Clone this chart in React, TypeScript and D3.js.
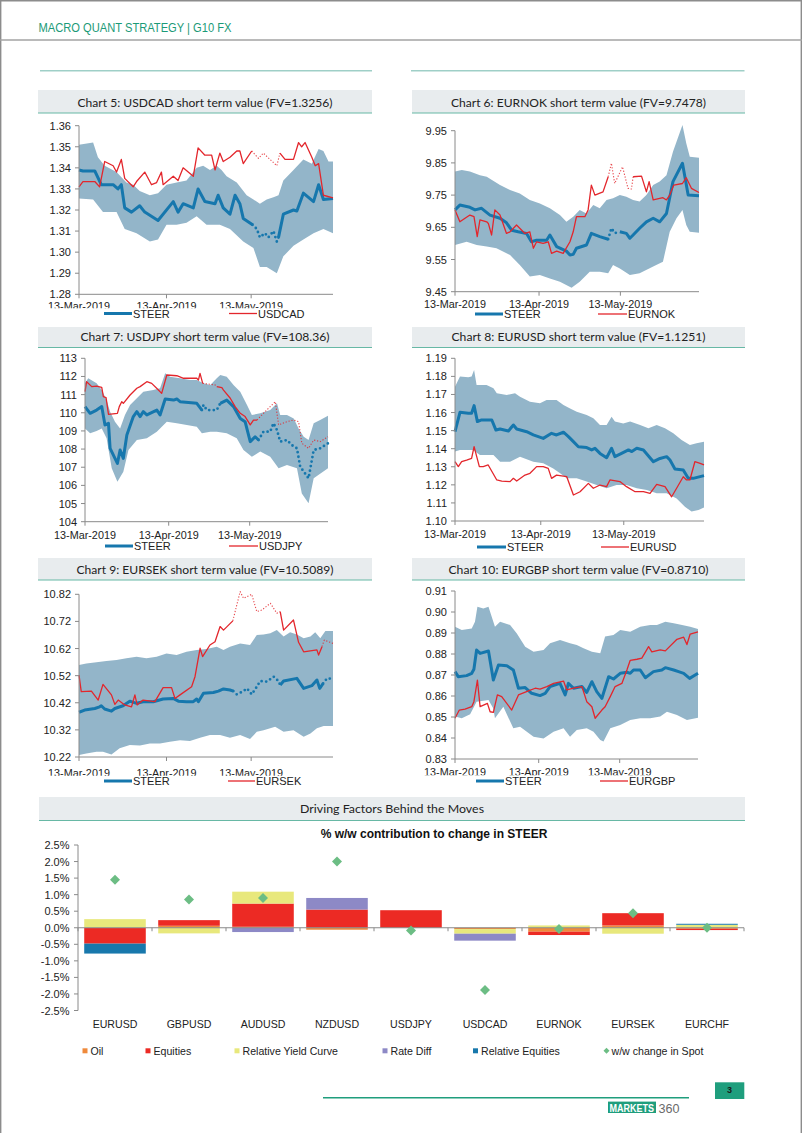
import React from 'react';
import * as d3 from 'd3';

type Pt = [number, number];
type Range = [number, number];

// ---------- time frame (days after 13-Mar-2019) ----------
const START = Date.UTC(2019, 2, 13);
const DAY_SPAN = 90;
const dateTicks = [Date.UTC(2019, 2, 13), Date.UTC(2019, 3, 13), Date.UTC(2019, 4, 13)];
const dayToDate = (d: number) => new Date(START + d * 86400000);

// ---------- Chart 5 USDCAD ----------
const usdcadTicks = [1.28, 1.29, 1.30, 1.31, 1.32, 1.33, 1.34, 1.35, 1.36];
const usdcadUpper: Pt[] = [[0,1.351],[5,1.352],[6.7,1.345],[9.1,1.341],[13.3,1.338],[16.8,1.333],[19.2,1.332],[21.5,1.329],[25.1,1.327],[28,1.328],[31,1.332],[34.6,1.333],[38.1,1.334],[41.7,1.340],[44,1.341],[46.4,1.339],[48.8,1.341],[50.5,1.339],[52.3,1.336],[55.9,1.333],[59.4,1.327],[61.8,1.325],[64.1,1.323],[66.5,1.325],[68.9,1.326],[70.7,1.327],[72.4,1.334],[76,1.339],[79.5,1.344],[82.5,1.342],[84.9,1.349],[86.6,1.348],[88.4,1.343],[90,1.343]];
const usdcadLower: Pt[] = [[0,1.3255],[5,1.325],[8.5,1.319],[13.3,1.319],[16.2,1.311],[20.4,1.309],[25.1,1.305],[28,1.306],[31,1.313],[34.6,1.313],[38.1,1.314],[41.7,1.317],[45.2,1.313],[49.9,1.313],[53.5,1.311],[58.2,1.305],[61.8,1.302],[64.1,1.293],[66.5,1.293],[70.1,1.290],[72.4,1.298],[76,1.303],[79.5,1.306],[83.1,1.309],[86.6,1.311],[90,1.309]];
const usdcadSteer: Pt[] = [[0,1.339],[1.4,1.3385],[5.6,1.3385],[7.9,1.332],[12.1,1.332],[13.8,1.330],[15,1.332],[16.2,1.321],[18.6,1.319],[21.5,1.322],[23.3,1.319],[28,1.315],[33.4,1.324],[35.1,1.319],[36.9,1.323],[40.5,1.321],[42.2,1.330],[44.6,1.324],[48.2,1.323],[49.3,1.327],[51.1,1.321],[53.5,1.318],[55.3,1.327],[57,1.323],[58.2,1.316],[61.5,1.313],[63,1.311],[64.1,1.307],[65.9,1.309],[67.1,1.307],[68.9,1.310],[70.1,1.305],[70.7,1.307],[72.4,1.318],[76,1.320],[77.2,1.3195],[79.5,1.328],[83.1,1.324],[84.9,1.332],[86.6,1.325],[90,1.3255]];
const usdcadSpot: Pt[] = [[0,1.331],[1.4,1.3335],[5.6,1.3335],[7.3,1.331],[9.1,1.343],[12.1,1.341],[13.3,1.338],[15,1.344],[16.2,1.335],[19.2,1.331],[20.4,1.3335],[23.3,1.338],[25.7,1.332],[27.5,1.333],[29.2,1.338],[29.8,1.332],[33.4,1.336],[35.1,1.334],[36.9,1.340],[40.5,1.336],[42.2,1.3495],[44.6,1.346],[47,1.346],[48.2,1.339],[49.9,1.347],[51.1,1.343],[53.5,1.345],[55.9,1.348],[57,1.348],[58.2,1.342],[61.2,1.348],[63.6,1.3445],[65.3,1.347],[70.1,1.341],[71.2,1.347],[73,1.344],[76,1.344],[77.8,1.352],[78.9,1.350],[80.1,1.352],[82.5,1.345],[83.7,1.341],[84.9,1.342],[86.6,1.327],[90,1.3258]];
const usdcadSteerDotted: Range[] = [[61.5, 70.7]];
const usdcadSpotDotted: Range[] = [[61.2, 71.2]];

// ---------- Chart 6 EURNOK ----------
const eurnokTicks = [9.45, 9.55, 9.65, 9.75, 9.85, 9.95];
const eurnokUpper: Pt[] = [[0,9.823],[2.5,9.828],[5.5,9.823],[9.2,9.812],[11.7,9.807],[16.6,9.781],[20.3,9.766],[23.9,9.755],[27.6,9.735],[31.3,9.724],[35,9.709],[38.7,9.688],[41.1,9.667],[43.6,9.683],[46,9.704],[48.5,9.693],[51,9.719],[53.4,9.709],[55.9,9.735],[58.3,9.740],[60.8,9.750],[63.2,9.745],[65.7,9.735],[68.1,9.730],[70.6,9.750],[73.1,9.781],[75.5,9.792],[78,9.812],[80.4,9.885],[83.9,9.968],[85.3,9.911],[86.6,9.869],[90,9.866]];
const eurnokLower: Pt[] = [[0,9.595],[4.3,9.605],[8,9.595],[11.7,9.590],[15.3,9.585],[20.3,9.564],[23.9,9.533],[27.6,9.497],[31.3,9.502],[35,9.491],[38.7,9.481],[43,9.462],[46,9.481],[49.7,9.512],[53.4,9.512],[56.5,9.507],[58.3,9.533],[60.8,9.522],[64.5,9.502],[68.1,9.507],[73.1,9.528],[76.7,9.543],[79.2,9.636],[81.7,9.678],[83.9,9.704],[85.3,9.657],[86.6,9.636],[90,9.633]];
const eurnokSteer: Pt[] = [[0,9.704],[1.8,9.719],[5.5,9.712],[7.4,9.704],[9.8,9.709],[12.9,9.688],[16.6,9.678],[19,9.664],[20.9,9.641],[23.3,9.636],[26.4,9.631],[28.2,9.605],[30.1,9.610],[33.8,9.610],[35,9.626],[37.5,9.590],[41.1,9.576],[42.4,9.564],[43.6,9.566],[44.8,9.585],[48.5,9.595],[50.3,9.631],[53.4,9.621],[56.5,9.613],[57.7,9.647],[58.9,9.632],[60.8,9.636],[63.2,9.631],[64.5,9.616],[65.7,9.626],[68.1,9.647],[70.6,9.667],[73.1,9.678],[75.5,9.667],[78,9.693],[80.4,9.792],[83.9,9.849],[86,9.750],[90,9.748]];
const eurnokSpot: Pt[] = [[0,9.704],[1.8,9.667],[3.7,9.678],[5.5,9.688],[7,9.683],[8.2,9.621],[9.2,9.673],[11.7,9.667],[12.3,9.662],[13.5,9.626],[14.7,9.704],[16.6,9.688],[19,9.631],[20.3,9.636],[22.7,9.657],[25.8,9.631],[27.6,9.636],[28.9,9.585],[30.1,9.605],[32.5,9.600],[34.4,9.605],[35.6,9.569],[37.5,9.576],[39.9,9.569],[42.4,9.605],[43.6,9.636],[44.8,9.683],[47.9,9.683],[49.1,9.704],[50.3,9.781],[51.6,9.750],[54.6,9.760],[56.5,9.807],[57.7,9.849],[58.9,9.786],[61.8,9.838],[63.8,9.771],[65.1,9.769],[65.7,9.807],[68.8,9.809],[70.6,9.760],[71.6,9.792],[73.1,9.735],[76.7,9.742],[78,9.735],[79.2,9.750],[80.7,9.781],[83.9,9.786],[85.3,9.804],[87.2,9.771],[90,9.758]];
const eurnokSteerDotted: Range[] = [[56.5, 61]];
const eurnokSpotDotted: Range[] = [[56.5, 65.5]];

// ---------- Chart 7 USDJPY ----------
const usdjpyTicks = [104, 105, 106, 107, 108, 109, 110, 111, 112, 113];
const usdjpyUpper: Pt[] = [[0,111.62],[1.2,111.9],[4.3,111.62],[6.2,111.25],[8,110.7],[9.3,110.06],[11.1,109.5],[13,109.14],[14.8,109.88],[16.7,110.43],[19.2,110.8],[21.6,111.16],[25.3,111.25],[27.8,111.35],[29.7,112.17],[31.5,111.99],[35.2,111.9],[38.9,111.8],[41.4,111.8],[43.9,111.62],[46.4,111.53],[48.8,111.9],[50.1,112.08],[52.5,111.99],[55,111.53],[57.5,111.16],[60,110.43],[61.8,109.88],[64.9,109.97],[68.6,110.15],[71.1,110.52],[72.3,109.88],[74.8,109.88],[77.3,109.69],[79.1,109.14],[81,108.68],[82.8,108.5],[84.7,109.42],[87.1,109.6],[90,109.84]];
const usdjpyLower: Pt[] = [[0,109.14],[1.9,108.87],[4.3,109.0],[6.2,109.14],[8,108.59],[9.9,106.94],[12,106.2],[14.2,106.75],[16.1,107.95],[19.2,108.5],[22.9,108.59],[26.6,108.96],[30.3,109.51],[34,109.42],[37.7,109.33],[41.4,109.23],[43.3,108.87],[46.4,108.96],[48.8,108.96],[52.5,108.87],[56.2,108.59],[58.7,107.95],[61.8,107.58],[64.9,107.86],[68.6,107.58],[71.7,106.94],[74.8,107.12],[78.5,106.94],[80.3,105.56],[82.8,105.01],[84.7,106.39],[90,106.94]];
const usdjpySteer: Pt[] = [[0,110.34],[1.9,109.97],[4.3,110.15],[6.2,110.34],[7.4,109.33],[8.7,109.42],[9.3,108.04],[12,107.21],[13,107.95],[14.2,107.49],[15.5,108.78],[17.9,109.79],[19.2,110.06],[20.4,109.79],[21.6,110.06],[22.9,109.88],[26.6,110.15],[27.8,109.88],[29.7,110.76],[32.8,110.7],[34,110.76],[35.2,110.61],[41.4,110.52],[43.3,110.15],[43.9,110.43],[45.1,110.15],[47,110.15],[48.8,110.15],[50.1,110.52],[52.5,110.7],[55,110.34],[57.5,109.69],[59.3,109.51],[61.2,108.41],[63,108.68],[64.3,108.5],[66.1,108.96],[68.6,108.96],[69.8,109.42],[71.1,109.05],[72.3,108.41],[74.8,108.5],[76.6,108.22],[78.5,108.04],[79.7,107.03],[82.8,106.39],[84.7,107.95],[87.1,108.04],[90,108.32]];
const usdjpySpot: Pt[] = [[0,111.16],[0.6,111.71],[2.5,111.44],[4.3,111.47],[6.2,111.4],[6.8,110.89],[7.8,110.83],[8.7,109.91],[12,109.97],[12.7,110.34],[13.6,110.61],[14.2,110.52],[16.7,110.98],[19.2,111.35],[20.4,111.44],[22.9,111.71],[24.7,111.62],[27.2,111.25],[28.4,111.07],[30.3,112.08],[34,112.04],[36.5,111.9],[41.4,111.9],[42,111.8],[42.6,112.17],[43.6,111.62],[46.4,111.57],[48.2,111.53],[48.8,111.44],[50.7,111.38],[51.3,111.25],[53.8,110.8],[55.6,110.34],[57.5,109.97],[59.3,109.79],[61.2,109.33],[62.4,109.6],[63.7,109.6],[66.1,109.97],[68.6,110.34],[70.5,110.61],[71.7,109.33],[74.8,109.51],[77.3,109.6],[79.1,109.51],[80.3,108.32],[82.8,108.04],[84.7,108.5],[87.1,108.41],[90,108.68]];
const usdjpySteerDotted: Range[] = [[43, 49.5], [64.3, 90]];
const usdjpySpotDotted: Range[] = [[43.6, 48.6], [63.7, 90]];

// ---------- Chart 8 EURUSD ----------
const eurusdTicks = [1.10, 1.11, 1.12, 1.13, 1.14, 1.15, 1.16, 1.17, 1.18, 1.19];
const eurusdUpper: Pt[] = [[0,1.1743],[1.8,1.1799],[4.8,1.1795],[6,1.1799],[6.9,1.1835],[7.8,1.1752],[11.4,1.1752],[13.9,1.1734],[15.1,1.1706],[18.7,1.1697],[21.7,1.1706],[23.5,1.1688],[27.1,1.166],[30.7,1.1651],[33.1,1.167],[36.7,1.167],[39.2,1.1642],[41.6,1.1623],[44,1.1605],[47.6,1.1586],[50,1.1568],[52.4,1.1531],[54.8,1.1531],[56.6,1.1577],[57.8,1.155],[60.8,1.154],[63.3,1.155],[66.9,1.1531],[69.9,1.1513],[72.9,1.1531],[75.9,1.1513],[78.9,1.1485],[81.9,1.1448],[84.9,1.142],[87.3,1.143],[90,1.1439]];
const eurusdLower: Pt[] = [[0,1.1384],[1.8,1.1393],[6.6,1.1393],[9,1.1365],[13.9,1.1365],[16.3,1.1328],[19.9,1.1328],[23.5,1.1356],[28.3,1.1328],[31.9,1.1319],[35.5,1.1291],[38,1.1264],[40.4,1.1236],[44,1.1236],[47.6,1.1218],[51.2,1.1199],[54.8,1.1181],[58.4,1.1199],[62,1.1199],[65.7,1.1181],[69.3,1.1172],[72.9,1.1153],[76.5,1.1153],[80.1,1.1125],[83.1,1.1079],[85.5,1.1052],[88,1.1061],[90,1.1074]];
const eurusdSteer: Pt[] = [[0,1.1494],[1.8,1.1601],[4.8,1.1596],[6,1.1596],[6.9,1.1638],[8.1,1.155],[9.6,1.1559],[13.3,1.1559],[14.8,1.1503],[16.3,1.1509],[19.3,1.1498],[21.1,1.1531],[22.3,1.1509],[25.9,1.1494],[28.3,1.1476],[31.9,1.1457],[34.9,1.1485],[36.7,1.1476],[39.2,1.1491],[41,1.1467],[42.8,1.1439],[44.6,1.1411],[47.6,1.1406],[49.4,1.1393],[50.6,1.1402],[52.4,1.1374],[54.8,1.135],[56.6,1.1402],[57.8,1.1356],[60.2,1.1374],[62.7,1.1393],[63.9,1.1384],[65.7,1.1402],[68.1,1.1393],[71.7,1.1328],[74.1,1.1346],[76.5,1.1356],[77.7,1.1337],[79.5,1.1288],[82.5,1.1282],[84.3,1.1236],[86.1,1.1236],[90,1.1251]];
const eurusdSpot: Pt[] = [[0,1.1328],[1.2,1.1301],[2.4,1.1328],[4.2,1.1337],[6,1.1347],[6.9,1.1411],[8.8,1.1301],[10.2,1.1301],[12,1.131],[15.1,1.1227],[16.9,1.1221],[19.9,1.1218],[21.1,1.1236],[22.3,1.1221],[25.3,1.1254],[27.1,1.1264],[29.5,1.1301],[31.9,1.1301],[33.7,1.1291],[34.9,1.1236],[36.7,1.1254],[40.4,1.1245],[42.8,1.1144],[45.2,1.1162],[48.2,1.1208],[50,1.1181],[52.4,1.1199],[54.8,1.119],[56,1.1227],[59.6,1.1218],[62,1.119],[65.1,1.1162],[68.1,1.1162],[70.5,1.1153],[72.9,1.1203],[75.9,1.119],[78.3,1.1134],[80.1,1.1181],[82.5,1.1245],[83.7,1.1227],[84.9,1.1227],[86.7,1.1328],[88.6,1.1319],[90,1.131]];
const eurusdSteerDotted: Range[] = [];
const eurusdSpotDotted: Range[] = [];

// ---------- Chart 9 EURSEK ----------
const eursekTicks = [10.22, 10.32, 10.42, 10.52, 10.62, 10.72, 10.82];
const eursekUpper: Pt[] = [[0,10.559],[2.6,10.565],[6.2,10.569],[9.7,10.574],[13.3,10.578],[16.8,10.584],[20.4,10.59],[23.9,10.584],[27.5,10.59],[31,10.602],[34.6,10.596],[38.1,10.608],[41.7,10.615],[45.2,10.618],[48.8,10.627],[51.2,10.615],[53.5,10.627],[57.1,10.639],[60.6,10.633],[63,10.67],[65.4,10.672],[67.8,10.676],[70.1,10.688],[72.5,10.664],[74.8,10.68],[77.2,10.672],[79.6,10.658],[82,10.664],[83.7,10.68],[85.5,10.658],[87.3,10.685],[90,10.685]];
const eursekLower: Pt[] = [[0,10.227],[2.6,10.233],[6.2,10.239],[8.5,10.239],[11.5,10.229],[14.4,10.252],[18,10.264],[21.6,10.262],[25.1,10.27],[28.7,10.27],[32.2,10.276],[35.8,10.282],[39.3,10.279],[42.9,10.291],[46.4,10.301],[50,10.301],[53.5,10.291],[57.1,10.301],[60.6,10.286],[63,10.313],[65.4,10.319],[69.5,10.332],[72.5,10.313],[76,10.319],[79.6,10.295],[82,10.307],[84.3,10.326],[86.7,10.334],[90,10.334]];
const eursekSteer: Pt[] = [[0,10.385],[2,10.393],[5.6,10.399],[7.3,10.405],[7.9,10.409],[9.1,10.397],[11.5,10.389],[12.7,10.399],[15.6,10.409],[18,10.426],[20.4,10.418],[22.7,10.424],[26.3,10.424],[29.8,10.434],[33.4,10.436],[35.2,10.426],[38.1,10.424],[40.5,10.424],[41.7,10.434],[42.3,10.424],[44.1,10.455],[47.6,10.458],[49.4,10.463],[51.2,10.471],[53.5,10.467],[54.7,10.463],[55.9,10.451],[58.3,10.463],[59.5,10.473],[61.2,10.451],[63,10.479],[64.2,10.5],[66.6,10.498],[69,10.516],[70.7,10.5],[71.3,10.485],[72.5,10.5],[77.2,10.51],[79.6,10.473],[82.5,10.483],[84.3,10.504],[85.3,10.473],[86.5,10.491],[87.9,10.51],[90,10.508]];
const eursekSpot: Pt[] = [[0,10.522],[0.8,10.461],[4.4,10.463],[6.8,10.43],[8.5,10.488],[11.5,10.449],[12.7,10.414],[13.9,10.43],[16.2,10.412],[18.6,10.405],[19.8,10.449],[20.6,10.412],[22.7,10.43],[26.9,10.424],[29.8,10.476],[32.8,10.476],[34,10.436],[35.8,10.449],[39.9,10.479],[41.1,10.516],[42.9,10.621],[43.8,10.59],[46.4,10.633],[48.2,10.645],[50,10.701],[51.2,10.688],[54.5,10.722],[57.1,10.83],[58.3,10.805],[61.2,10.82],[63,10.756],[64.8,10.762],[67.8,10.787],[70.1,10.75],[71.3,10.756],[72.5,10.688],[76,10.725],[77.8,10.643],[79.6,10.608],[84.3,10.615],[84.9,10.596],[86.1,10.627],[86.9,10.651],[90,10.639]];
const eursekSteerDotted: Range[] = [[54.7, 71.3], [86.5, 90]];
const eursekSpotDotted: Range[] = [[54.5, 71.3], [86.1, 90]];

// ---------- Chart 10 EURGBP ----------
const eurgbpTicks = [0.83, 0.84, 0.85, 0.86, 0.87, 0.88, 0.89, 0.90, 0.91];
const eurgbpUpper: Pt[] = [[0,0.893],[2.5,0.8914],[6.2,0.8922],[7.4,0.8954],[8.3,0.9025],[10.5,0.9017],[12.4,0.9025],[14.8,0.893],[16.7,0.8954],[20.4,0.8938],[22.9,0.8898],[26,0.8835],[29.1,0.8811],[32.8,0.8819],[35.2,0.8851],[38.9,0.8867],[42.6,0.8851],[45.1,0.8843],[47.6,0.8827],[50.7,0.8811],[53.8,0.8803],[55.6,0.8883],[58.7,0.889],[61.2,0.8914],[64.9,0.8906],[68.6,0.893],[72.3,0.8938],[74.8,0.8938],[77.9,0.8954],[81,0.8946],[84.1,0.8938],[87.1,0.893],[90,0.8919]];
const eurgbpLower: Pt[] = [[0,0.8502],[2.5,0.8494],[5.6,0.8513],[8,0.8573],[12.4,0.8581],[14.2,0.8541],[14.8,0.8494],[17.9,0.8549],[21.6,0.8446],[24.1,0.8454],[26.6,0.843],[29.1,0.8406],[32.8,0.8398],[36.5,0.843],[40.2,0.8446],[42.6,0.8406],[45.1,0.8438],[48.8,0.8446],[51.3,0.843],[53.8,0.839],[55,0.8383],[57.5,0.8446],[61.2,0.8462],[64.9,0.8486],[68.6,0.8494],[72.3,0.8494],[76,0.8502],[78.5,0.8525],[82.2,0.851],[85.9,0.8486],[90,0.8497]];
const eurgbpSteer: Pt[] = [[0,0.8716],[1.2,0.8692],[4.3,0.8697],[6.2,0.8708],[7,0.8727],[8,0.8819],[9.3,0.8803],[12.4,0.8814],[14.2,0.8676],[16.1,0.8748],[19.2,0.8744],[21.6,0.8724],[23.5,0.8637],[26,0.864],[28.4,0.8613],[31.5,0.8602],[33.4,0.8613],[35.2,0.8645],[38.9,0.866],[40.8,0.8605],[42,0.866],[43.9,0.8637],[47,0.8645],[48.8,0.8617],[50.7,0.8668],[52.5,0.8621],[54.4,0.8589],[56.9,0.8692],[58.7,0.8681],[61.2,0.8708],[63.7,0.8713],[64.9,0.8708],[66.1,0.8724],[68.6,0.8724],[70.5,0.8687],[73.5,0.8716],[76.6,0.8724],[77.9,0.8735],[81,0.8724],[82.8,0.8716],[84.7,0.8708],[86.9,0.8684],[90,0.8708]];
const eurgbpSpot: Pt[] = [[0,0.8494],[1.6,0.8533],[3.7,0.8538],[6.2,0.8549],[7,0.8573],[8.3,0.8676],[9.3,0.8549],[12,0.8565],[13,0.8525],[14.2,0.8522],[15.7,0.8605],[17.3,0.8597],[21,0.8533],[23.5,0.8605],[27.2,0.8624],[29.7,0.8637],[31.5,0.8633],[34,0.8645],[36.5,0.866],[40.2,0.8671],[41.4,0.8629],[43.9,0.8637],[47,0.8645],[48.8,0.8573],[50.7,0.8549],[51.9,0.8494],[54.4,0.8533],[55.6,0.8549],[57.5,0.8597],[59.3,0.8645],[61.8,0.866],[63.7,0.8725],[64.9,0.877],[67.4,0.8775],[69.2,0.878],[71.7,0.8835],[72.9,0.881],[76,0.882],[77.9,0.8815],[82.2,0.887],[84.7,0.888],[85.9,0.8845],[87.1,0.8895],[90,0.8905]];
const eurgbpSteerDotted: Range[] = [];
const eurgbpSpotDotted: Range[] = [];

// ---------- Driving factors bar chart ----------
const barCats = ['EURUSD', 'GBPUSD', 'AUDUSD', 'NZDUSD', 'USDJPY', 'USDCAD', 'EURNOK', 'EURSEK', 'EURCHF'];
const oilVals = [0, 0.06, 0.03, -0.06, 0, -0.04, -0.12, 0.07, -0.03];
const equitiesVals = [-0.48, 0.17, 0.70, 0.55, 0.53, 0, -0.10, 0.37, -0.04];
const yieldCurveVals = [0.26, -0.17, 0.36, 0, 0, -0.14, 0.07, -0.18, 0.09];
const rateDiffVals = [0, 0, -0.13, 0.35, 0, -0.21, 0, 0, 0];
const relEquitiesVals = [-0.30, 0, 0, 0, 0, 0, 0, 0, 0.03];
const spotChangeVals = [1.45, 0.85, 0.9, 2.0, -0.08, -1.88, -0.04, 0.44, 0.0];
const barTicks = [-2.5, -2.0, -1.5, -1.0, -0.5, 0, 0.5, 1.0, 1.5, 2.0, 2.5];

// ---------- styles ----------
const FONT = "'Liberation Sans', Arial, sans-serif";
const NARROW = "'Liberation Sans Narrow', 'Liberation Sans', Arial, sans-serif";
const TITLE_FONT = "Lato, 'Open Sans', sans-serif";
const BAND_C = '#93b5c9';
const STEER_C = '#1677ad';
const SPOT_C = '#e3262c';
const TEAL = '#1f9e7d';
const AXIS_C = '#8a8a8a';

interface Layout {
  left: number; right: number; top: number; bottom: number;
  boxX: number; boxW: number; boxY: number; boxH: number;
  titleBase: number; titleLen: number;
  labelBase: number; labelClip: number; legendY: number;
  steerLeg: [number, number]; spotLeg: [number, number];
}

const L5: Layout = { left: 79, right: 333, top: 125.7, bottom: 294.3, boxX: 38, boxW: 334, boxY: 90, boxH: 23, titleBase: 106.5, titleLen: 255, labelBase: 310.3, labelClip: 308.3, legendY: 313.5, steerLeg: [104, 132], spotLeg: [229, 257] };
const L6: Layout = { left: 455, right: 699, top: 130.7, bottom: 291.7, boxX: 412, boxW: 333, boxY: 90, boxH: 23, titleBase: 106.5, titleLen: 255, labelBase: 308.2, labelClip: 322, legendY: 314, steerLeg: [475, 503], spotLeg: [598, 627] };
const L7: Layout = { left: 85, right: 328, top: 358.3, bottom: 521.7, boxX: 38, boxW: 334, boxY: 327, boxH: 20.5, titleBase: 340.5, titleLen: 249, labelBase: 539, labelClip: 560, legendY: 546, steerLeg: [105, 133], spotLeg: [229, 258] };
const L8: Layout = { left: 455, right: 704, top: 358.3, bottom: 521, boxX: 412, boxW: 333, boxY: 327, boxH: 20.5, titleBase: 340.5, titleLen: 254, labelBase: 538, labelClip: 560, legendY: 547, steerLeg: [477, 506], spotLeg: [601, 629] };
const L9: Layout = { left: 79, right: 333, top: 594.3, bottom: 757, boxX: 38, boxW: 334, boxY: 558, boxH: 22, titleBase: 574.3, titleLen: 257, labelBase: 776.5, labelClip: 775.7, legendY: 781, steerLeg: [104, 132], spotLeg: [228, 255] };
const L10: Layout = { left: 455, right: 698, top: 591, bottom: 759, boxX: 412, boxW: 333, boxY: 558, boxH: 22, titleBase: 574.3, titleLen: 260, labelBase: 776.2, labelClip: 775.2, legendY: 781, steerLeg: [476, 504], spotLeg: [600, 628] };

interface ChartDef {
  id: string; title: string; pair: string;
  upper: Pt[]; lower: Pt[]; steer: Pt[]; spot: Pt[];
  steerDots: Range[]; spotDots: Range[]; ticks: number[]; dec: number; L: Layout;
}

const chartDefs: ChartDef[] = [
  { id: 'c5', title: 'Chart 5: USDCAD short term value (FV=1.3256)', pair: 'USDCAD', upper: usdcadUpper, lower: usdcadLower, steer: usdcadSteer, spot: usdcadSpot, steerDots: usdcadSteerDotted, spotDots: usdcadSpotDotted, ticks: usdcadTicks, dec: 2, L: L5 },
  { id: 'c6', title: 'Chart 6: EURNOK short term value (FV=9.7478)', pair: 'EURNOK', upper: eurnokUpper, lower: eurnokLower, steer: eurnokSteer, spot: eurnokSpot, steerDots: eurnokSteerDotted, spotDots: eurnokSpotDotted, ticks: eurnokTicks, dec: 2, L: L6 },
  { id: 'c7', title: 'Chart 7: USDJPY short term value (FV=108.36)', pair: 'USDJPY', upper: usdjpyUpper, lower: usdjpyLower, steer: usdjpySteer, spot: usdjpySpot, steerDots: usdjpySteerDotted, spotDots: usdjpySpotDotted, ticks: usdjpyTicks, dec: 0, L: L7 },
  { id: 'c8', title: 'Chart 8: EURUSD short term value (FV=1.1251)', pair: 'EURUSD', upper: eurusdUpper, lower: eurusdLower, steer: eurusdSteer, spot: eurusdSpot, steerDots: eurusdSteerDotted, spotDots: eurusdSpotDotted, ticks: eurusdTicks, dec: 2, L: L8 },
  { id: 'c9', title: 'Chart 9: EURSEK short term value (FV=10.5089)', pair: 'EURSEK', upper: eursekUpper, lower: eursekLower, steer: eursekSteer, spot: eursekSpot, steerDots: eursekSteerDotted, spotDots: eursekSpotDotted, ticks: eursekTicks, dec: 2, L: L9 },
  { id: 'c10', title: 'Chart 10: EURGBP short term value (FV=0.8710)', pair: 'EURGBP', upper: eurgbpUpper, lower: eurgbpLower, steer: eurgbpSteer, spot: eurgbpSpot, steerDots: eurgbpSteerDotted, spotDots: eurgbpSpotDotted, ticks: eurgbpTicks, dec: 2, L: L10 },
];

function splitSegments(pts: Pt[], ranges: Range[]) {
  const segs: { dotted: boolean; pts: Pt[] }[] = [];
  for (let i = 0; i < pts.length - 1; i++) {
    const mid = (pts[i][0] + pts[i + 1][0]) / 2;
    const dotted = ranges.some(([a, b]) => mid >= a && mid <= b);
    const last = segs[segs.length - 1];
    if (last && last.dotted === dotted) last.pts.push(pts[i + 1]);
    else segs.push({ dotted, pts: [pts[i], pts[i + 1]] });
  }
  return segs;
}

function TitleBox({ x, y, w, h, base, len, text }: { x: number; y: number; w: number; h: number; base: number; len: number; text: string }) {
  return (
    <g>
      <rect x={x} y={y} width={w} height={h} fill="#e8ecee" />
      <line x1={x} x2={x + w} y1={y + h} y2={y + h} stroke="#67b8a5" strokeWidth={1} />
      <text x={x + w / 2} y={base} textAnchor="middle" fontFamily={TITLE_FONT} fontSize={12} fill="#222"
        textLength={len} lengthAdjust="spacingAndGlyphs">{text}</text>
    </g>
  );
}

function LineChart({ c }: { c: ChartDef }) {
  const L = c.L;
  const x = d3.scaleUtc().domain([dayToDate(0), dayToDate(DAY_SPAN)]).range([L.left, L.right]);
  const y = d3.scaleLinear().domain([c.ticks[0], c.ticks[c.ticks.length - 1]]).range([L.bottom, L.top]);
  const line = d3.line<Pt>().x(p => x(dayToDate(p[0]))).y(p => y(p[1]));
  const bandPath = (line([...c.upper, ...c.lower.slice().reverse()]) || '') + 'Z';
  const steerSegs = splitSegments(c.steer, c.steerDots);
  const spotSegs = splitSegments(c.spot, c.spotDots);
  const fmtDate = d3.utcFormat('%d-%b-%Y');
  const clipId = `clip-${c.id}`;
  return (
    <g>
      <TitleBox x={L.boxX} y={L.boxY} w={L.boxW} h={L.boxH} base={L.titleBase} len={L.titleLen} text={c.title} />
      <path d={bandPath} fill={BAND_C} />
      {steerSegs.map((s, i) => (
        <path key={'s' + i} d={line(s.pts) || ''} fill="none" stroke={STEER_C}
          strokeWidth={s.dotted ? 2.8 : 3} strokeLinejoin="round"
          strokeLinecap={s.dotted ? 'round' : 'butt'} strokeDasharray={s.dotted ? '0 4.6' : undefined} />
      ))}
      {spotSegs.map((s, i) => (
        <path key={'p' + i} d={line(s.pts) || ''} fill="none" stroke={SPOT_C}
          strokeWidth={s.dotted ? 1.1 : 1.3} strokeLinejoin="round"
          strokeDasharray={s.dotted ? '1.2 1.8' : undefined} opacity={s.dotted ? 0.85 : 1} />
      ))}
      {/* y axis */}
      <line x1={L.left} x2={L.left} y1={L.top} y2={L.bottom} stroke={AXIS_C} strokeWidth={1} />
      {c.ticks.map(t => (
        <g key={t}>
          <line x1={L.left - 4} x2={L.left} y1={y(t)} y2={y(t)} stroke={AXIS_C} strokeWidth={1} />
          <text x={L.left - 8} y={y(t) + 4} textAnchor="end" fontFamily={FONT} fontSize={11} fill="#222">{t.toFixed(c.dec)}</text>
        </g>
      ))}
      {/* x axis */}
      <line x1={L.left} x2={L.right} y1={L.bottom} y2={L.bottom} stroke={AXIS_C} strokeWidth={1} />
      <clipPath id={clipId}>
        <rect x={L.left - 80} y={L.bottom} width={L.right - L.left + 160} height={L.labelClip - L.bottom} />
      </clipPath>
      {dateTicks.map(t => (
        <g key={t}>
          <line x1={x(new Date(t))} x2={x(new Date(t))} y1={L.bottom} y2={L.bottom + 4} stroke={AXIS_C} strokeWidth={1} />
          <text x={x(new Date(t))} y={L.labelBase} textAnchor="middle" fontFamily={FONT} fontSize={10.8} fill="#222"
            clipPath={`url(#${clipId})`}>{fmtDate(new Date(t))}</text>
        </g>
      ))}
      {/* legend */}
      <line x1={L.steerLeg[0]} x2={L.steerLeg[1]} y1={L.legendY} y2={L.legendY} stroke={STEER_C} strokeWidth={3} />
      <text x={L.steerLeg[1] + 1} y={L.legendY + 4} fontFamily={FONT} fontSize={11} fill="#222">STEER</text>
      <line x1={L.spotLeg[0]} x2={L.spotLeg[1]} y1={L.legendY} y2={L.legendY} stroke={SPOT_C} strokeWidth={1.3} />
      <text x={L.spotLeg[1] + 1} y={L.legendY + 4} fontFamily={FONT} fontSize={11} fill="#222">{c.pair}</text>
    </g>
  );
}

const barSeries = [
  { name: 'Oil', vals: oilVals, color: '#ef8a3c', leg: 82.5 },
  { name: 'Equities', vals: equitiesVals, color: '#ec2a24', leg: 145.5 },
  { name: 'Relative Yield Curve', vals: yieldCurveVals, color: '#e8e87c', leg: 234.5 },
  { name: 'Rate Diff', vals: rateDiffVals, color: '#8d89c6', leg: 382.5 },
  { name: 'Relative Equities', vals: relEquitiesVals, color: '#1878ac', leg: 473 },
];
const SPOT_LEG_X = 606.5;
const DIAMOND_C = '#6cbd84';

function BarChart() {
  const x = d3.scaleBand<string>().domain(barCats).range([78, 744]).paddingInner(0.168).paddingOuter(0.084);
  const step = x.step();
  const y = d3.scaleLinear().domain([-2.5, 2.5]).range([1010.5, 845]);
  const stacks = barCats.map((_, i) => {
    let pos = 0, neg = 0;
    return barSeries.map(s => {
      const v = s.vals[i];
      if (v >= 0) { const a = pos; pos += v; return [a, pos]; }
      const a = neg; neg += v; return [a, neg];
    });
  });
  const diamond = (cx: number, cy: number, r: number) => `M${cx},${cy - r}L${cx + r},${cy}L${cx},${cy + r}L${cx - r},${cy}Z`;
  return (
    <g>
      <TitleBox x={39} y={797} w={706} h={23.5} base={813.3} len={184} text="Driving Factors Behind the Moves" />
      <text x={434} y={837.5} textAnchor="middle" fontFamily={FONT} fontWeight="bold" fontSize={12} fill="#111">% w/w contribution to change in STEER</text>
      {barCats.map((c, i) => stacks[i].map((st, j) => {
        const v = barSeries[j].vals[i];
        if (v === 0) return null;
        const y0 = y(Math.max(st[0], st[1]));
        const y1 = y(Math.min(st[0], st[1]));
        return <rect key={c + j} x={x(c)} y={y0} width={x.bandwidth()} height={Math.max(0.8, y1 - y0)} fill={barSeries[j].color} />;
      }))}
      {/* axes */}
      <line x1={78} x2={78} y1={845} y2={1010.5} stroke={AXIS_C} strokeWidth={1} />
      {barTicks.map(t => (
        <g key={t}>
          <line x1={74} x2={78} y1={y(t)} y2={y(t)} stroke={AXIS_C} strokeWidth={1} />
          <text x={69.5} y={y(t) + 4} textAnchor="end" fontFamily={FONT} fontSize={11} fill="#222">{t.toFixed(1) + '%'}</text>
        </g>
      ))}
      <line x1={78} x2={744} y1={y(0)} y2={y(0)} stroke={AXIS_C} strokeWidth={1} />
      {d3.range(barCats.length + 1).map(k => (
        <line key={k} x1={78 + k * step} x2={78 + k * step} y1={y(0)} y2={y(0) + 3.5} stroke={AXIS_C} strokeWidth={1} />
      ))}
      {barCats.map((c, i) => (
        <path key={'d' + c} d={diamond((x(c) as number) + x.bandwidth() / 2, y(spotChangeVals[i]), 5)} fill={DIAMOND_C} />
      ))}
      {barCats.map(c => (
        <text key={'l' + c} x={(x(c) as number) + x.bandwidth() / 2} y={1027.5} textAnchor="middle" fontFamily={FONT} fontSize={10.6} fill="#222">{c}</text>
      ))}
      {/* legend */}
      {barSeries.map(s => (
        <g key={s.name}>
          <rect x={s.leg} y={1048.3} width={5} height={5} fill={s.color} />
          <text x={s.leg + 8} y={1054.6} fontFamily={FONT} fontSize={10.6} fill="#222">{s.name}</text>
        </g>
      ))}
      <path d={diamond(SPOT_LEG_X, 1050.8, 3)} fill={DIAMOND_C} />
      <text x={SPOT_LEG_X + 5} y={1054.6} fontFamily={FONT} fontSize={10.6} fill="#222">w/w change in Spot</text>
    </g>
  );
}

export default function App() {
  return (
    <div style={{ position: 'absolute', left: 0, top: 0 }}>
      <svg width={802} height={1133} viewBox="0 0 802 1133" style={{ display: 'block', background: '#fff' }}>
        <rect x={0} y={0} width={802} height={1133} fill="#fff" />
        {/* page border */}
        <path d="M0.7,1133 L0.7,0.7 L801.3,0.7 L801.3,1133" fill="none" stroke="#8c8c8c" strokeWidth={1.4} />
        {/* header */}
        <text x={38.5} y={32.3} fontFamily={NARROW} fontSize={13} fill="#1b9a77" textLength={193} lengthAdjust="spacingAndGlyphs">MACRO QUANT STRATEGY | G10 FX</text>
        <line x1={0} x2={802} y1={40} y2={40} stroke="#a3a3a3" strokeWidth={1.4} />
        <line x1={40} x2={372} y1={70.8} y2={70.8} stroke="#9fcfc7" strokeWidth={1.5} />
        <line x1={411} x2={744.5} y1={70.8} y2={70.8} stroke="#9fcfc7" strokeWidth={1.5} />
        {chartDefs.map(c => <LineChart key={c.id} c={c} />)}
        <BarChart />
        {/* footer */}
        <rect x={715} y={1082.3} width={29.3} height={16.7} fill={TEAL} />
        <text x={729.6} y={1092.6} textAnchor="middle" fontFamily={FONT} fontWeight="bold" fontSize={9} fill="#1a1a1a">3</text>
        <line x1={323} x2={689} y1={1097.7} y2={1097.7} stroke={TEAL} strokeWidth={1.5} />
        <rect x={608} y={1101.6} width={48} height={11.4} fill={TEAL} />
        <text x={609.5} y={1111.6} fontFamily={NARROW} fontWeight="bold" fontSize={10.5} fill="#fff" textLength={44.5} lengthAdjust="spacingAndGlyphs">MARKETS</text>
        <text x={658.5} y={1112.6} fontFamily={NARROW} fontSize={13.5} fill="#6a6a6a" textLength={21} lengthAdjust="spacingAndGlyphs">360</text>
      </svg>
    </div>
  );
}
